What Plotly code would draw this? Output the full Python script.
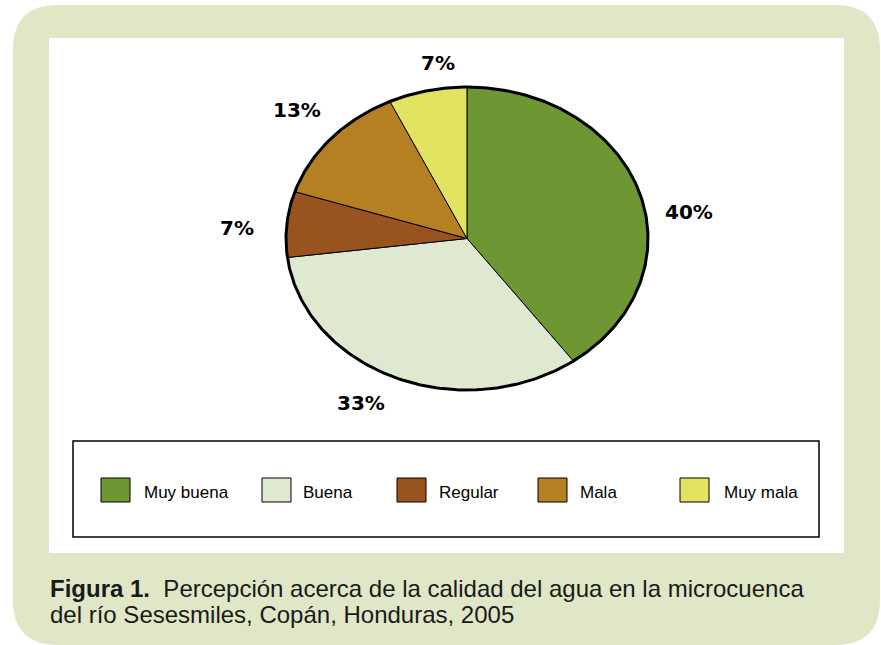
import numpy as np
import plotly.graph_objects as go

# Survey results: perceived water quality
categories = ["Muy buena", "Buena", "Regular", "Mala", "Muy mala"]
values = [40, 33, 7, 13, 7]
value_labels = ["40%", "33%", "7%", "13%", "7%"]
colors = ["#6e9733", "#dfe8d0", "#99531f", "#b58022", "#e3e362"]

caption_bold = "Figura 1."
caption_line1 = "Percepción acerca de la calidad del agua en la microcuenca"
caption_line2 = "del río Sesesmiles, Copán, Honduras, 2005"

W, H = 881, 645


def fx(x):
    return x / W


def fy(y):
    return 1 - y / H


fig = go.Figure()

# Pie slices drawn as filled polygons on a squashed axis pair -> elliptical pie
total = float(sum(values))
start = 0.0
mids = []
for cat, val, col in zip(categories, values, colors):
    frac = val / total
    t = np.linspace(start, start + frac, max(int(frac * 400), 8)) * 2 * np.pi
    xs = np.concatenate([[0], np.sin(t), [0]])
    ys = np.concatenate([[0], np.cos(t), [0]])
    fig.add_trace(go.Scatter(
        x=xs, y=ys, mode="lines", fill="toself", fillcolor=col,
        line=dict(color="black", width=1), name=cat, hoverinfo="name",
        showlegend=False,
    ))
    mids.append((start + frac / 2) * 2 * np.pi)
    start += frac

# Heavy outer rim
tt = np.linspace(0, 2 * np.pi, 400)
fig.add_trace(go.Scatter(x=np.sin(tt), y=np.cos(tt), mode="lines",
                         line=dict(color="black", width=3),
                         hoverinfo="skip", showlegend=False))

# Percentage labels around the pie
label_r = 1.25
label_shift = [(7, -32), (-16, 9), (-5, -7), (0, 3), (20, -9)]
annotations = []
for lab, m, (sx, sy) in zip(value_labels, mids, label_shift):
    annotations.append(dict(
        x=label_r * np.sin(m), y=label_r * np.cos(m), xref="x", yref="y",
        text=lab, showarrow=False, xshift=sx, yshift=sy,
        font=dict(family="DejaVu Sans", size=20, color="black", weight="bold"),
        xanchor="center", yanchor="middle",
    ))

shapes = []
# Rounded light-green frame
x0, x1, y0, y1, r = 13, 880, 5, 645, 45
path = (f"M {fx(x0 + r)} {fy(y0)} L {fx(x1 - r)} {fy(y0)} "
        f"Q {fx(x1)} {fy(y0)} {fx(x1)} {fy(y0 + r)} "
        f"L {fx(x1)} {fy(y1 - r)} Q {fx(x1)} {fy(y1)} {fx(x1 - r)} {fy(y1)} "
        f"L {fx(x0 + r)} {fy(y1)} Q {fx(x0)} {fy(y1)} {fx(x0)} {fy(y1 - r)} "
        f"L {fx(x0)} {fy(y0 + r)} Q {fx(x0)} {fy(y0)} {fx(x0 + r)} {fy(y0)} Z")
shapes.append(dict(type="path", path=path, xref="paper", yref="paper",
                   fillcolor="#e0e7c6", line=dict(width=0), layer="below"))
# White chart area
shapes.append(dict(type="rect", xref="paper", yref="paper",
                   x0=fx(49), x1=fx(844), y0=fy(553), y1=fy(38),
                   fillcolor="white", line=dict(width=0), layer="below"))
# Legend frame
shapes.append(dict(type="rect", xref="paper", yref="paper",
                   x0=fx(73), x1=fx(819), y0=fy(537), y1=fy(441),
                   fillcolor="white", line=dict(color="black", width=1.5),
                   layer="below"))

# Legend swatches and names
swatch_x = [101, 262, 397, 538, 680]
text_x = [142, 301, 437, 578, 722]
for cat, col, sx, tx in zip(categories, colors, swatch_x, text_x):
    shapes.append(dict(type="rect", xref="paper", yref="paper",
                       x0=fx(sx), x1=fx(sx + 29), y0=fy(502), y1=fy(478),
                       fillcolor=col, line=dict(color="black", width=1)))
    annotations.append(dict(x=fx(tx), y=fy(492), xref="paper", yref="paper",
                            text=cat, showarrow=False, xanchor="left",
                            yanchor="middle",
                            font=dict(family="Liberation Sans", size=17,
                                      color="black")))

# Figure caption (two lines)
cap_font = dict(family="Liberation Sans", size=24, color="#1a1a1a")
annotations.append(dict(
    x=fx(48), y=fy(588), xref="paper", yref="paper",
    text=f"<b>{caption_bold}</b>\u00a0 {caption_line1}", showarrow=False,
    xanchor="left", yanchor="middle", font=cap_font,
))
annotations.append(dict(
    x=fx(48), y=fy(614), xref="paper", yref="paper",
    text=caption_line2, showarrow=False,
    xanchor="left", yanchor="middle", font=cap_font,
))

# Axis span of +-1.5 units; pie radius 1 maps to 181 x 151.5 px
cx, cy, rx, ry, span = 467, 238.5, 181, 151.5, 1.5
fig.update_layout(
    width=W, height=H, margin=dict(l=0, r=0, t=0, b=0),
    paper_bgcolor="white", plot_bgcolor="rgba(0,0,0,0)",
    xaxis=dict(domain=[fx(cx - rx * span), fx(cx + rx * span)],
               range=[-span, span], visible=False, fixedrange=True),
    yaxis=dict(domain=[fy(cy + ry * span), fy(cy - ry * span)],
               range=[-span, span], visible=False, fixedrange=True),
    shapes=shapes, annotations=annotations, showlegend=False,
)

fig.write_html("out.html")
